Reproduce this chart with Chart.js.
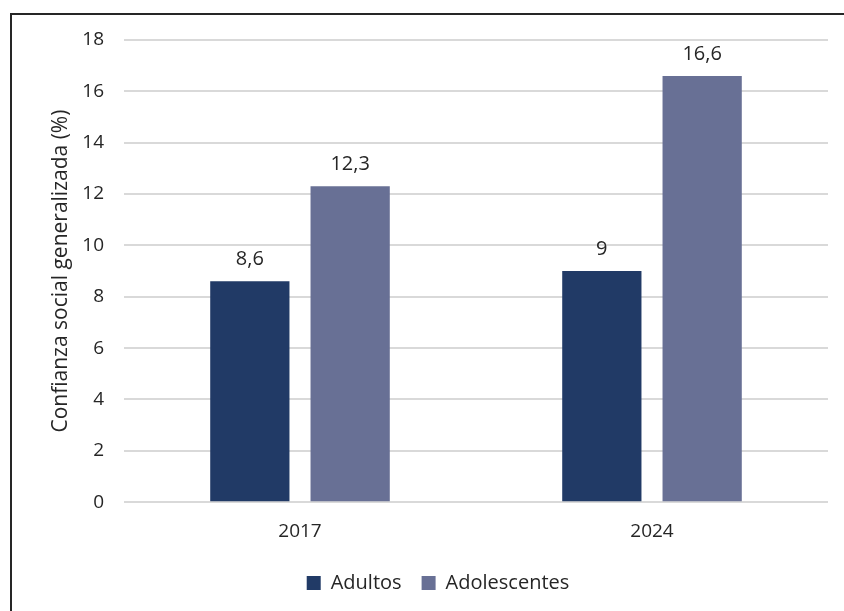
<!DOCTYPE html>
<html>
<head>
<meta charset="utf-8">
<script src="https://cdn.jsdelivr.net/npm/chart.js@4"></script>
<style>
  html, body { margin: 0; padding: 0; background: #fff; overflow: hidden; }
  .frame { position: absolute; left: 10px; top: 13px; width: 900px; height: 700px; border: 2px solid #262626; box-sizing: border-box; }
  .chart-container { position: absolute; left: 0; top: 0; width: 844px; height: 611px; }
</style>
</head>
<body>
<div class="frame"></div>
<div class="chart-container"><canvas id="chart"></canvas></div>
<script>
const years = ['2017', '2024'];
const adultos = [8.6, 9];
const adolescentes = [12.3, 16.6];
const yTicks = [0, 2, 4, 6, 8, 10, 12, 14, 16, 18];

const font = "'Open Sans', 'Noto Sans', sans-serif";

// draws the value above each bar, decimal comma like the original
const valueLabels = {
  id: 'valueLabels',
  afterDatasetsDraw(chart) {
    const ctx = chart.ctx;
    ctx.save();
    ctx.font = '20px ' + font;
    ctx.fillStyle = '#262626';
    ctx.textAlign = 'center';
    ctx.textBaseline = 'bottom';
    chart.data.datasets.forEach((ds, i) => {
      chart.getDatasetMeta(i).data.forEach((bar, j) => {
        const txt = String(ds.data[j]).replace('.', ',');
        ctx.fillText(txt, bar.x, bar.y - 12);
      });
    });
    ctx.restore();
  }
};

new Chart(document.getElementById('chart'), {
  type: 'bar',
  data: {
    labels: years,
    datasets: [
      { label: 'Adultos', data: adultos, backgroundColor: '#213a66' },
      { label: 'Adolescentes', data: adolescentes, backgroundColor: '#687095' }
    ]
  },
  options: {
    responsive: true,
    maintainAspectRatio: false,
    animation: false,
    categoryPercentage: 0.57,
    barPercentage: 0.79,
    layout: { padding: { left: 48, right: 16, top: 40, bottom: 8 } },
    plugins: {
      legend: {
        position: 'bottom',
        labels: { font: { family: font, size: 20 }, color: '#262626', boxWidth: 14, boxHeight: 14, padding: 20 }
      },
      tooltip: { enabled: false }
    },
    scales: {
      x: {
        grid: { display: false },
        border: { display: false },
        ticks: { font: { family: font, size: 19 }, color: '#262626', padding: 10 }
      },
      y: {
        min: 0,
        max: 18,
        afterBuildTicks(scale) { scale.ticks = yTicks.map(v => ({ value: v })); },
        afterFit(scale) { scale.width = 76; },
        grid: { color: '#d9d9d9', lineWidth: 2, drawTicks: false },
        border: { display: false },
        ticks: { font: { family: font, size: 19 }, color: '#262626', padding: 20 },
        title: { display: true, text: 'Confianza social generalizada (%)', font: { family: font, size: 21 }, color: '#262626', padding: 0 }
      }
    }
  },
  plugins: [valueLabels]
});
</script>
</body>
</html>
